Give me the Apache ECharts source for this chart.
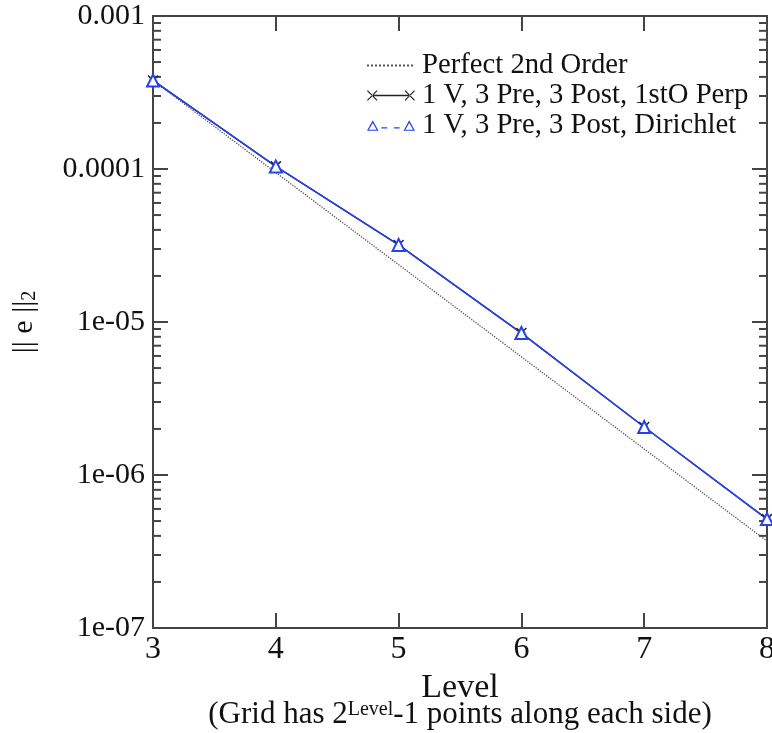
<!DOCTYPE html>
<html>
<head>
<meta charset="utf-8">
<script src="https://cdn.jsdelivr.net/npm/echarts@6/dist/echarts.min.js"></script>
<style>
  html, body { margin: 0; padding: 0; background: #fff; }
  #chart { width: 772px; height: 733px; }
</style>
</head>
<body>
<div id="chart"></div>
<script>
// 数据
const levels = [3, 4, 5, 6, 7, 8]
const perfect2nd = [3.79e-4, 9.48e-5, 2.37e-5, 5.92e-6, 1.48e-6, 3.70e-7]
const firstOPerp = [3.79e-4, 1.04e-4, 3.19e-5, 8.47e-6, 2.06e-6, 5.15e-7]
const dirichlet = [3.79e-4, 1.04e-4, 3.19e-5, 8.47e-6, 2.06e-6, 5.15e-7]
const yTickLabels = { '-3': '0.001', '-4': '0.0001', '-5': '1e-05', '-6': '1e-06', '-7': '1e-07' }

const FONT = '"Liberation Serif", "DejaVu Serif", serif'
const BLUE = '#2542f0'
const AXIS = '#444'

// 图例图标：两端带标记的线
const ICON_CROSS = 'path://M6,6.4L42,6.4L42,7.6L6,7.6Z' +
  'M1,2.8L1.8,2L11,11.2L10.2,12Z M1,11.2L1.8,12L11,2.8L10.2,2Z' +
  'M37,2.8L37.8,2L47,11.2L46.2,12Z M37,11.2L37.8,12L47,2.8L46.2,2Z'
const ICON_TRI = 'path://M5,0L11,11L-1,11Z M5,2.8L1,10L9,10Z' +
  'M14,7.3L20,7.3L20,8.5L14,8.5Z M27,7.3L33,7.3L33,8.5L27,8.5Z' +
  'M43,0L49,11L37,11Z M43,2.8L39,10L47,10Z'

// 对数轴次刻度 (2..9 每个量级)
let minorTicks = []
for (let e = -7; e < -3; e++) {
  for (let m = 2; m <= 9; m++) minorTicks.push([3, m * Math.pow(10, e)])
}

let pairs = (ys) => levels.map((x, i) => [x, ys[i]])

let chart = echarts.init(document.getElementById('chart'))

let yAxisBase = {
  type: 'log',
  logBase: 10,
  min: 1e-7,
  max: 1e-3,
  splitNumber: 4,
  splitLine: { show: false },
  axisLine: { show: true, lineStyle: { color: AXIS, width: 2 } },
  axisTick: { show: true, inside: true, length: 15, lineStyle: { color: AXIS, width: 2 } }
}

let xAxisBase = {
  type: 'value',
  min: 3,
  max: 8,
  interval: 1,
  splitLine: { show: false },
  axisLine: { show: true, onZero: false, lineStyle: { color: AXIS, width: 2 } },
  axisTick: { show: true, inside: true, length: 15, lineStyle: { color: AXIS, width: 2 } }
}

chart.setOption({
  animation: false,
  backgroundColor: '#fff',
  grid: { left: 153, right: 5, top: 16, bottom: 105, outerBoundsMode: 'none', containLabel: false },
  xAxis: [
    Object.assign({}, xAxisBase, {
      position: 'bottom',
      name: 'Level',
      nameLocation: 'middle',
      nameGap: 29,
      nameTextStyle: { fontFamily: FONT, fontSize: 34, color: '#111' },
      axisLabel: { fontFamily: FONT, fontSize: 32, color: '#111', margin: 6 }
    }),
    Object.assign({}, xAxisBase, { position: 'top', axisLabel: { show: false } })
  ],
  yAxis: [
    Object.assign({}, yAxisBase, {
      position: 'left',
      name: '|| e ||{sub|2}',
      nameLocation: 'middle',
      nameGap: 113,
      nameRotate: 90,
      nameTextStyle: {
        fontFamily: FONT, fontSize: 30, color: '#111',
        rich: { sub: { fontFamily: FONT, fontSize: 20, color: '#111', verticalAlign: 'bottom', padding: [12, 0, 0, 0] } }
      },
      axisLabel: {
        fontFamily: FONT, fontSize: 30, color: '#111', margin: 8,
        formatter: (v) => yTickLabels[String(Math.round(Math.log10(v)))] || ''
      }
    }),
    Object.assign({}, yAxisBase, { position: 'right', axisLabel: { show: false } })
  ],
  legend: {
    orient: 'vertical',
    left: 361,
    top: 46,
    itemWidth: 48,
    itemHeight: 14,
    itemGap: 1,
    textStyle: { fontFamily: FONT, fontSize: 28.7, color: '#111', padding: [0, 0, 0, 2] },
    data: [
      { name: 'Perfect 2nd Order', itemStyle: { opacity: 0 } },
      { name: '1 V, 3 Pre, 3 Post, 1stO Perp', icon: ICON_CROSS, itemStyle: { color: '#222', borderWidth: 0 } },
      { name: '1 V, 3 Pre, 3 Post, Dirichlet', icon: ICON_TRI, itemStyle: { color: BLUE, borderWidth: 0 } }
    ]
  },
  series: [
    {
      name: 'Perfect 2nd Order',
      type: 'line',
      data: pairs(perfect2nd),
      symbol: 'none',
      lineStyle: { color: '#555', width: 1.3, type: 'dotted' },
      itemStyle: { color: '#555' }
    },
    {
      name: '1 V, 3 Pre, 3 Post, 1stO Perp',
      type: 'line',
      data: pairs(firstOPerp),
      symbol: 'path://M0,0L10,10M10,0L0,10',
      symbolSize: 10,
      lineStyle: { color: '#222', width: 1.5 },
      itemStyle: { color: '#222', borderColor: '#222', borderWidth: 1.5 }
    },
    {
      name: '1 V, 3 Pre, 3 Post, Dirichlet',
      type: 'line',
      data: pairs(dirichlet),
      symbol: 'emptyTriangle',
      symbolSize: 12,
      lineStyle: { color: BLUE, width: 1.5 },
      itemStyle: { color: BLUE, borderColor: BLUE, borderWidth: 1.5 }
    },
    {
      // 次刻度，左右两侧
      type: 'custom',
      silent: true,
      data: minorTicks,
      renderItem: (params, api) => {
        let v = api.value(1)
        let l = api.coord([3, v])
        let r = api.coord([8, v])
        let st = { stroke: AXIS, lineWidth: 2 }
        return {
          type: 'group',
          children: [
            { type: 'line', shape: { x1: l[0], y1: l[1], x2: l[0] + 8, y2: l[1] }, style: st },
            { type: 'line', shape: { x1: r[0], y1: r[1], x2: r[0] - 8, y2: r[1] }, style: st }
          ]
        }
      }
    }
  ],
  graphic: [
    {
      type: 'text',
      x: 460,
      y: 715,
      style: {
        text: '(Grid has 2{sup|Level}-1 points along each side)',
        fontFamily: FONT,
        fontSize: 31,
        fill: '#111',
        align: 'center',
        verticalAlign: 'middle',
        rich: {
          sup: { fontFamily: FONT, fontSize: 20, fill: '#111', verticalAlign: 'top', padding: [0, 0, 11, 0] }
        }
      }
    }
  ]
})
</script>
</body>
</html>
